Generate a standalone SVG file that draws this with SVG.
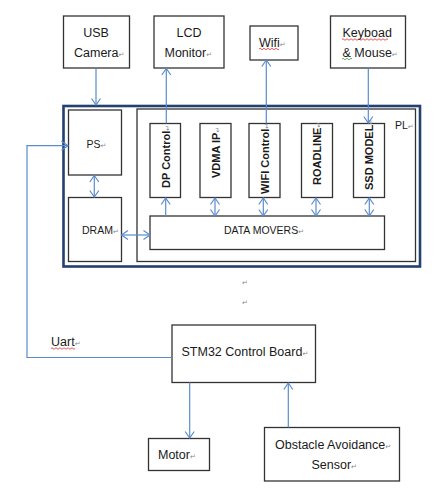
<svg xmlns="http://www.w3.org/2000/svg" width="448" height="504" viewBox="0 0 448 504">
<style>
.box{fill:#fff;stroke:#333;stroke-width:1.3}
.t{font-family:"Liberation Sans",Arial,sans-serif;font-size:12.5px;fill:#1a1a1a}
.s{font-family:"Liberation Sans",Arial,sans-serif;font-size:10.5px;fill:#1a1a1a}
.v{font-family:"Liberation Sans",Arial,sans-serif;font-size:11px;font-weight:bold;fill:#1a1a1a}
.pm{font-family:"DejaVu Sans",sans-serif;font-size:7px;font-weight:normal;fill:#888}
.c{fill:none;stroke:#5a8ccc;stroke-width:1.2}
.a{marker-end:url(#ah)}
.d{marker-start:url(#ah);marker-end:url(#ah)}
.w{fill:none;stroke:#e03030;stroke-width:0.8}
</style>
<defs>
<marker id="ah" markerUnits="userSpaceOnUse" markerWidth="14" markerHeight="14" viewBox="-8 -7 10 14" refX="0" refY="0" orient="auto-start-reverse">
<path d="M-6.5,-4.5 L0,0 L-6.5,4.5" fill="none" stroke="#5a8ccc" stroke-width="1.2"/>
</marker>
</defs>
<rect width="448" height="504" fill="#fff"/>

<g id="usb-camera"><rect class="box" x="63.5" y="16" width="66" height="52"/><text class="t" x="96" y="37" text-anchor="middle">USB</text><text class="t" x="74" y="56.5">Camera<tspan class="pm">↵</tspan></text></g>
<g id="lcd-monitor"><rect class="box" x="154" y="16" width="70" height="52"/><text class="t" x="189" y="37" text-anchor="middle">LCD</text><text class="t" x="164.5" y="56.5">Monitor<tspan class="pm">↵</tspan></text></g>
<g id="wifi"><rect class="box" x="250" y="26" width="48" height="34"/><text class="t" x="259" y="46.5">Wifi<tspan class="pm">↵</tspan></text><path class="w" d="M259,49 q1,-1.5 2,0 t2,0 t2,0 t2,0 t2,0 t2,0 t2,0 t2,0 t2,0 t2,0"/></g>
<g id="keyboard-mouse"><rect class="box" x="330.5" y="16" width="75" height="52"/><text class="t" x="342.5" y="37">Keyboad</text><text class="t" x="342.5" y="56.5">&amp; Mouse<tspan class="pm">↵</tspan></text><path class="w" d="M342,39.5 q1,-1.5 2,0 t2,0 t2,0 t2,0 t2,0 t2,0 t2,0 t2,0 t2,0 t2,0 t2,0 t2,0 t2,0 t2,0 t2,0 t2,0 t2,0 t2,0 t2,0 t2,0 t2,0 t2,0 t2,0"/><path d="M342,59 q1,-1.5 2,0 t2,0 t2,0 t2,0 t2,0" fill="none" stroke="#3a9a3a" stroke-width="0.8"/></g>

<g id="system"><rect x="63.5" y="106" width="356.5" height="160.5" fill="none" stroke="#24406e" stroke-width="2.6"/></g>
<g id="ps"><rect class="box" x="68.5" y="110" width="53" height="65"/><text class="s" x="86.5" y="148">PS<tspan class="pm">↵</tspan></text></g>
<g id="dram"><rect class="box" x="68.5" y="197.5" width="53" height="64"/><text class="s" x="82" y="234">DRAM<tspan class="pm">↵</tspan></text></g>
<g id="pl"><rect class="box" x="137" y="109" width="278.5" height="152.5"/><text class="s" x="395" y="129">PL<tspan class="pm">↵</tspan></text></g>
<g id="dp-control"><rect class="box" x="150" y="123.5" width="30.5" height="74"/><text class="v" transform="translate(169.5,188) rotate(-90)">DP Control<tspan class="pm">↵</tspan></text></g>
<g id="vdma-ip"><rect class="box" x="200" y="123.5" width="31" height="74"/><text class="v" transform="translate(219.5,178) rotate(-90)">VDMA IP<tspan class="pm">↵</tspan></text></g>
<g id="wifi-control"><rect class="box" x="249" y="123.5" width="31" height="74"/><text class="v" transform="translate(268.5,194) rotate(-90)">WIFI Control<tspan class="pm">↵</tspan></text></g>
<g id="roadline"><rect class="box" x="301.5" y="123.5" width="31" height="74"/><text class="v" transform="translate(321,185) rotate(-90)">ROADLINE<tspan class="pm">↵</tspan></text></g>
<g id="ssd-model"><rect class="box" x="353.5" y="123.5" width="31" height="74"/><text class="v" transform="translate(373,190) rotate(-90)">SSD MODEL<tspan class="pm">↵</tspan></text></g>
<g id="data-movers"><rect class="box" x="150" y="216" width="234.5" height="33.5"/><text class="s" x="264" y="234" text-anchor="middle">DATA MOVERS<tspan class="pm">↵</tspan></text></g>

<g id="stm32"><rect class="box" x="172" y="325" width="143.5" height="57.5"/><text class="t" x="181.5" y="356">STM32 Control Board<tspan class="pm">↵</tspan></text></g>
<g id="motor"><rect class="box" x="148.5" y="438.5" width="61" height="32"/><text class="t" x="158" y="459">Motor<tspan class="pm">↵</tspan></text></g>
<g id="obstacle-sensor"><rect class="box" x="264.5" y="427.5" width="135" height="53.5"/><text class="t" x="275" y="448.5">Obstacle Avoidance<tspan class="pm">↵</tspan></text><text class="t" x="311.5" y="468.5">Sensor<tspan class="pm">↵</tspan></text></g>

<g id="labels"><text class="t" x="51" y="346">Uart<tspan class="pm">↵</tspan></text><path class="w" d="M51,348.5 q1,-1.5 2,0 t2,0 t2,0 t2,0 t2,0 t2,0 t2,0 t2,0 t2,0 t2,0 t2,0 t2,0"/><text class="pm" x="242" y="285">↵</text><text class="pm" x="242" y="305">↵</text></g>

<g id="connectors">
<path class="c a" d="M96,68 V105"/>
<path class="c a" d="M166.3,123.5 V68.5"/>
<path class="c a" d="M266.3,123.5 V60"/>
<path class="c a" d="M368.3,68.5 V123"/>
<path class="c a" d="M165.7,216 V198"/>
<path class="c d" d="M215,198 V216"/>
<path class="c d" d="M263.3,198 V216"/>
<path class="c d" d="M316,198 V216"/>
<path class="c d" d="M369.3,198 V216"/>
<path class="c d" d="M94.3,175.5 V197"/>
<path class="c d" d="M121.5,235 H150"/>
<path class="c a" d="M172,357.5 H27 V145.7 H68"/>
<path class="c a" d="M189.7,382.5 V438"/>
<path class="c a" d="M288.3,427.5 V383"/>
</g>
</svg>
